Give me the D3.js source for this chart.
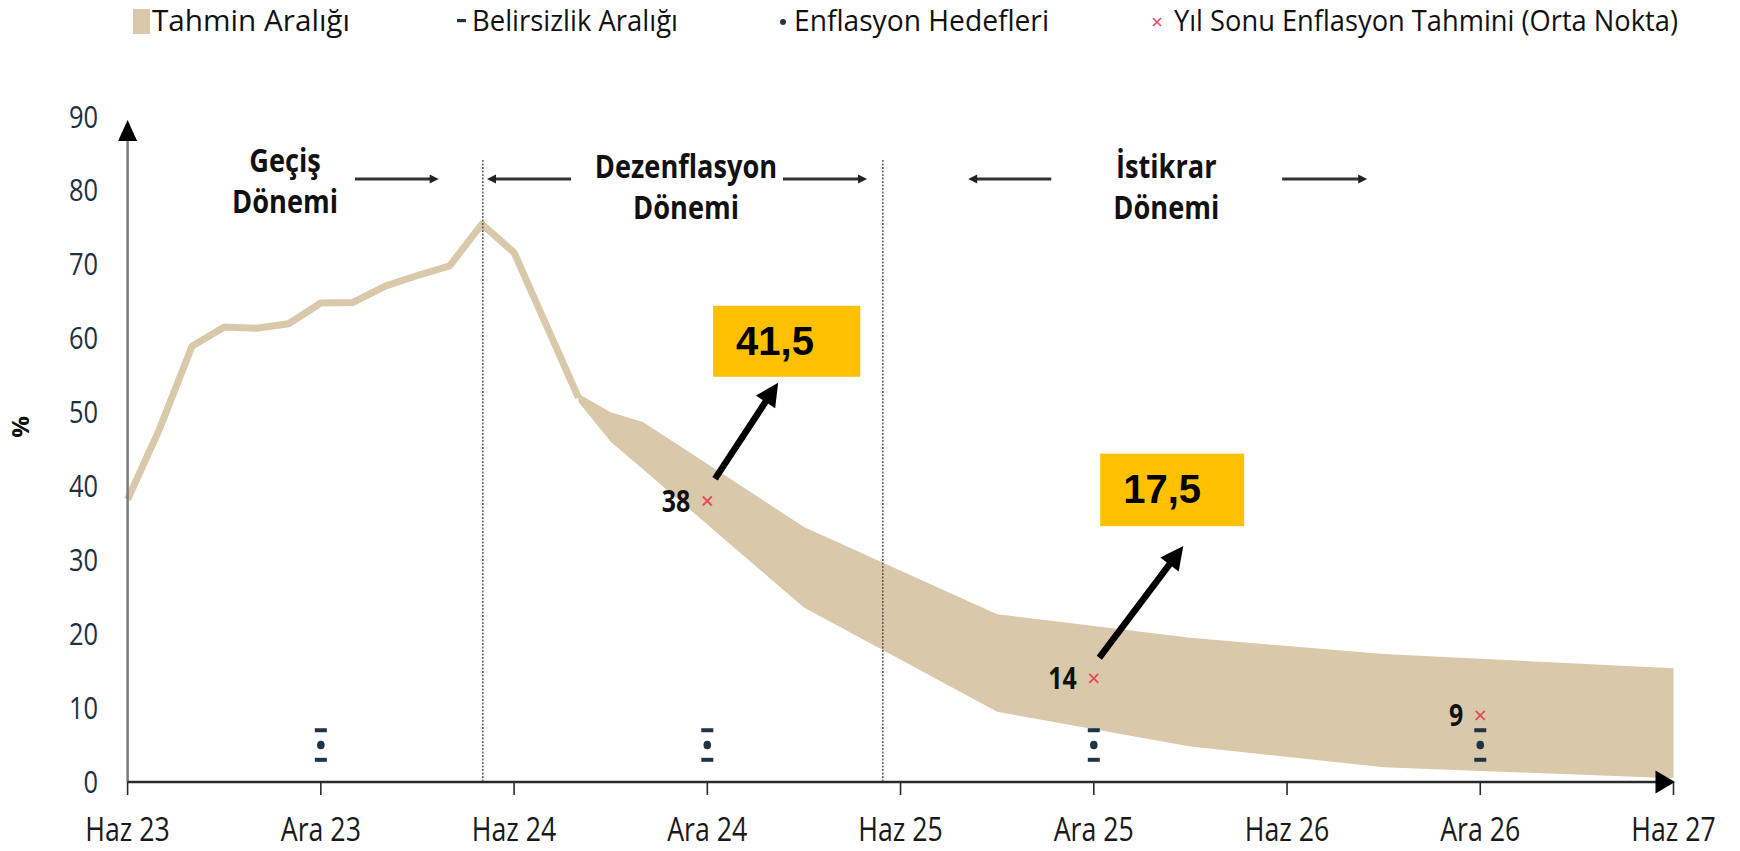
<!DOCTYPE html>
<html><head><meta charset="utf-8">
<script src="https://cdn.jsdelivr.net/npm/d3@7"></script>
<style>body{margin:0;background:#fff}svg{display:block}</style>
</head><body>
<svg id="c" width="1740" height="851"></svg>
<script>
// ---------- DATA ----------
const tickMonths = [0, 6, 12, 18, 24, 30, 36, 42, 48];
const tickLabels = ["Haz 23", "Ara 23", "Haz 24", "Ara 24", "Haz 25", "Ara 25", "Haz 26", "Ara 26", "Haz 27"];
const yTicks = [0, 10, 20, 30, 40, 50, 60, 70, 80, 90];
// realised annual CPI inflation, months counted from Haz 23
const histMonth = [0, 1, 2, 3, 4, 5, 6, 7, 8, 9, 10, 11, 12, 13, 14];
const histValue = [38.21, 47.83, 58.94, 61.53, 61.36, 61.98, 64.77, 64.86, 67.07, 68.50, 69.80, 75.45, 71.60, 61.78, 51.97];
// forecast range (Tahmin Aralığı)
const bandMonth = [14, 15, 16, 21, 27, 33, 39, 48];
const bandUpper = [52.5, 50.0, 48.7, 34.5, 22.7, 19.5, 17.3, 15.4];
const bandLower = [51.4, 46.0, 42.3, 23.6, 9.5, 4.8, 2.0, 0.5];
// inflation targets and uncertainty range
const targetMonth = [6, 18, 30, 42];
const targetValue = [5, 5, 5, 5];
const targetLow = [3, 3, 3, 3];
const targetHigh = [7, 7, 7, 7];
// year-end forecasts (mid point)
const forecastMonth = [18, 30, 42];
const forecastValue = [38, 14, 9];
const forecastLabel = ["38", "14", "9"];
// period boundaries and names
const periodBounds = [11.03, 23.45];
const periodNames = [["Geçiş", "Dönemi"], ["Dezenflasyon", "Dönemi"], ["İstikrar", "Dönemi"]];
// callouts
const calloutLabel = ["41,5", "17,5"];
const legendLabels = ["Tahmin Aralığı", "Belirsizlik Aralığı", "Enflasyon Hedefleri", "Yıl Sonu Enflasyon Tahmini (Orta Nokta)"];

// ---------- LAYOUT ----------
const BAND = "#d9c8aa", NAVY = "#1f3448", RED = "#e5475d", INK = "#111";
const svg = d3.select("#c");
const x = d3.scaleLinear().domain([0, 48]).range([127.6, 1673.5]);
const y = d3.scaleLinear().domain([0, 90]).range([782, 116.5]);

function fitK(sel, k) {
  sel.each(function () {
    const w = this.getComputedTextLength();
    this.setAttribute("textLength", w * k);
    this.setAttribute("lengthAdjust", "spacingAndGlyphs");
  });
}
function fitW(sel, w) {
  sel.attr("textLength", w).attr("lengthAdjust", "spacingAndGlyphs");
}

// band
const band = bandMonth.map((m, i) => ({ m, hi: bandUpper[i], lo: bandLower[i] }));
svg.append("path").datum(band)
  .attr("d", d3.area().x(d => x(d.m)).y0(d => y(d.lo)).y1(d => y(d.hi)))
  .attr("fill", BAND);

// history
const hist = histMonth.map((m, i) => ({ m, v: histValue[i] }));
svg.append("path").datum(hist)
  .attr("d", d3.line().x(d => x(d.m)).y(d => y(d.v)))
  .attr("fill", "none").attr("stroke", BAND).attr("stroke-width", 7)
  .attr("stroke-linejoin", "round");

// dashed period lines
svg.selectAll(".pb").data(periodBounds).join("line")
  .attr("x1", d => x(d)).attr("x2", d => x(d))
  .attr("y1", 160).attr("y2", y(0))
  .attr("stroke", "#444").attr("stroke-width", 1.3).attr("stroke-dasharray", "2,1.5");

// targets
targetMonth.forEach((m, i) => {
  [targetLow[i], targetHigh[i]].forEach(v => {
    svg.append("rect").attr("x", x(m) - 6).attr("y", y(v) - 2).attr("width", 12).attr("height", 4).attr("fill", NAVY);
  });
  svg.append("ellipse").attr("cx", x(m)).attr("cy", y(targetValue[i])).attr("rx", 3.8).attr("ry", 4.3).attr("fill", NAVY);
});

// forecast crosses + labels
forecastMonth.forEach((m, i) => {
  const cx = x(m), cy = y(forecastValue[i]), s = 4.5;
  svg.append("path").attr("d", `M${cx - s},${cy - s}L${cx + s},${cy + s}M${cx - s},${cy + s}L${cx + s},${cy - s}`)
    .attr("stroke", RED).attr("stroke-width", 1.8).attr("fill", "none");
  const t = svg.append("text").attr("x", cx - 17).attr("y", cy + 11).attr("text-anchor", "end")
    .attr("font-family", "Open Sans").attr("font-weight", 700).attr("font-size", 30).attr("fill", INK)
    .text(forecastLabel[i]);
  fitK(t, 0.83);
});

// callouts (positions in data units)
const callouts = [
  { box: [18.18, 22.75, 54.8, 64.4], from: [18.24, 41.0], to: [20.2, 54.0] },
  { box: [30.2, 34.67, 34.6, 44.4], from: [30.17, 16.8], to: [32.78, 31.9] }
];
callouts.forEach((c, i) => {
  const bx = x(c.box[0]), bw = x(c.box[1]) - bx, by = y(c.box[3]), bh = y(c.box[2]) - by;
  svg.append("rect").attr("x", bx).attr("y", by).attr("width", bw).attr("height", bh).attr("fill", "#ffc000");
  svg.append("text").attr("x", bx + 23).attr("y", by + 49)
    .attr("font-family", "Liberation Sans, Arial, sans-serif").attr("font-weight", 700).attr("font-size", 40)
    .attr("fill", "#000").text(calloutLabel[i]);
  const x1 = x(c.from[0]), y1 = y(c.from[1]), x2 = x(c.to[0]), y2 = y(c.to[1]);
  const L = Math.hypot(x2 - x1, y2 - y1), ux = (x2 - x1) / L, uy = (y2 - y1) / L, nx = -uy, ny = ux;
  const hl = 23, hw = 11.5;
  svg.append("line").attr("x1", x1).attr("y1", y1).attr("x2", x2 - ux * hl * 0.8).attr("y2", y2 - uy * hl * 0.8)
    .attr("stroke", "#000").attr("stroke-width", 6.5);
  const bxp = x2 - ux * hl, byp = y2 - uy * hl;
  svg.append("path").attr("d", `M${x2},${y2}L${bxp + nx * hw},${byp + ny * hw}L${bxp - nx * hw},${byp - ny * hw}Z`).attr("fill", "#000");
});

// axes
svg.append("line").attr("x1", x(0)).attr("x2", x(0)).attr("y1", y(0)).attr("y2", 138)
  .attr("stroke", "#7a7a7a").attr("stroke-width", 2.5);
svg.append("path").attr("d", `M${x(0)},120L${x(0) + 9.5},141L${x(0) - 9.5},141Z`).attr("fill", "#000");
svg.append("line").attr("x1", x(0)).attr("x2", x(48) - 15).attr("y1", y(0)).attr("y2", y(0))
  .attr("stroke", "#2a2a2a").attr("stroke-width", 2.5);
svg.append("path").attr("d", `M${x(48) + 1.5},${y(0)}L${x(48) - 18},${y(0) - 11.5}L${x(48) - 18},${y(0) + 11.5}Z`).attr("fill", "#000");
svg.selectAll(".xt").data(tickMonths).join("line")
  .attr("x1", d => x(d)).attr("x2", d => x(d)).attr("y1", y(0)).attr("y2", y(0) + 13)
  .attr("stroke", "#2a2a2a").attr("stroke-width", 1.6);
const xl = svg.selectAll(".xl").data(tickMonths).join("text")
  .attr("x", d => x(d)).attr("y", 841).attr("text-anchor", "middle")
  .attr("font-family", "Open Sans").attr("font-size", 33).attr("fill", "#1a1a1a")
  .text((d, i) => tickLabels[i]);
fitK(xl, 0.81);
const yl = svg.selectAll(".yl").data(yTicks).join("text")
  .attr("x", 98).attr("y", d => y(d) + 11).attr("text-anchor", "end")
  .attr("font-family", "Open Sans").attr("font-size", 31).attr("fill", "#1f3040")
  .text(d => d);
fitK(yl, 0.82);
svg.append("text").attr("transform", "translate(29,427) rotate(-90)").attr("text-anchor", "middle")
  .attr("font-family", "Open Sans").attr("font-weight", 700).attr("font-size", 24).attr("fill", INK).text("%");

// period labels
const pCenters = [4.89, 17.34, 32.25];
const pBase = [172, 178, 178];
pCenters.forEach((c, i) => {
  periodNames[i].forEach((s, j) => {
    const t = svg.append("text").attr("x", x(c)).attr("y", pBase[i] + j * 40.5).attr("text-anchor", "middle")
      .attr("font-family", "Open Sans").attr("font-weight", 700).attr("font-size", 32).attr("fill", INK).text(s);
    fitK(t, 0.85);
  });
});
// period arrows: [from, to] in months
const pArrows = [[7.06, 9.66], [13.77, 11.16], [20.35, 22.96], [28.68, 26.1], [35.85, 38.49]];
pArrows.forEach(([ma, mb]) => {
  const a = x(ma), b = x(mb), yy = 179, dir = Math.sign(b - a);
  svg.append("line").attr("x1", a).attr("x2", b - dir * 7).attr("y1", yy).attr("y2", yy)
    .attr("stroke", "#333").attr("stroke-width", 3);
  svg.append("path").attr("d", `M${b},${yy}L${b - dir * 9},${yy - 4.5}L${b - dir * 9},${yy + 4.5}Z`).attr("fill", "#222");
});

// legend
const lg = svg.append("g").attr("font-family", "Open Sans").attr("font-size", 30).attr("fill", INK);
lg.append("rect").attr("x", 133).attr("y", 9).attr("width", 17).attr("height", 25).attr("fill", BAND);
fitW(lg.append("text").attr("x", 152).attr("y", 31).text(legendLabels[0]), 198);
lg.append("rect").attr("x", 457).attr("y", 19).attr("width", 9).attr("height", 3.2).attr("fill", NAVY);
fitW(lg.append("text").attr("x", 472).attr("y", 31).text(legendLabels[1]), 206);
lg.append("circle").attr("cx", 783).attr("cy", 22).attr("r", 3).attr("fill", NAVY);
fitW(lg.append("text").attr("x", 794).attr("y", 31).text(legendLabels[2]), 255);
lg.append("path").attr("d", "M1153,18L1161,26M1153,26L1161,18").attr("stroke", RED).attr("stroke-width", 1.6);
fitW(lg.append("text").attr("x", 1174).attr("y", 31).text(legendLabels[3]), 504);
</script>
</body></html>
